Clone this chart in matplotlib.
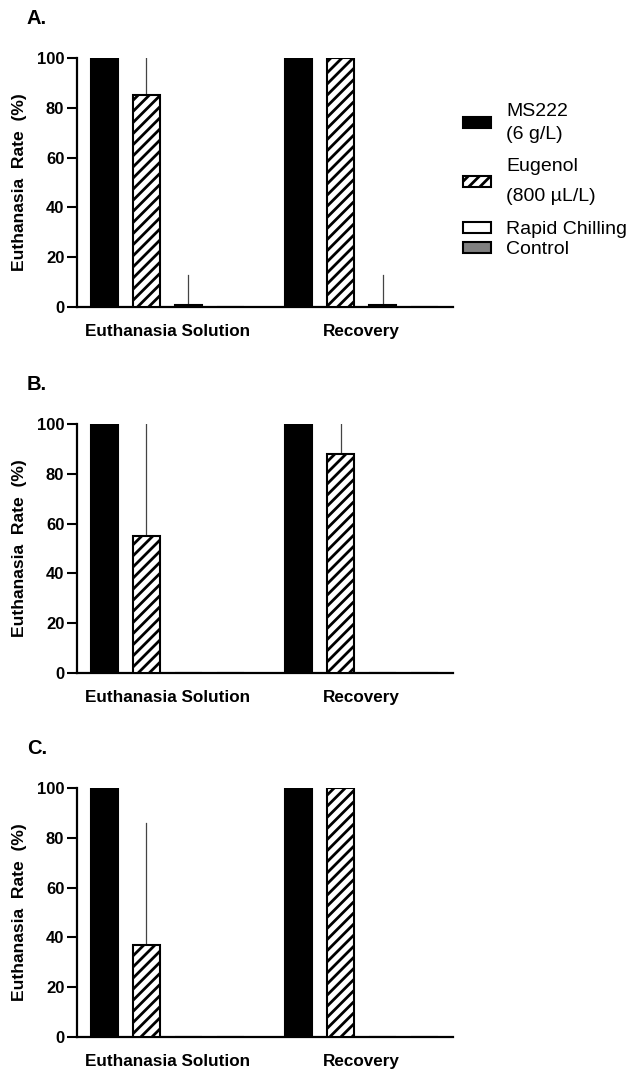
# Euthanasia rate by method, three experiments (A, B, C)

import numpy as np
import matplotlib.pyplot as plt
from matplotlib.patches import Patch

plt.rcParams["font.family"] = ["Liberation Sans", "DejaVu Sans"]
plt.rcParams["hatch.linewidth"] = 2.0

groups = ["Euthanasia Solution", "Recovery"]
methods = ["MS222\n(6 g/L)", "Eugenol\n(800 µL/L)", "Rapid Chilling", "Control"]
panels = ["A.", "B.", "C."]

# mean euthanasia rate (%) per panel, per method, per group [ES, Recovery]
ms222 = [[100, 100], [100, 100], [100, 100]]
eugenol = [[85, 100], [55, 88], [37, 100]]
chilling = [[1, 1], [0, 0], [0, 0]]
control = [[0, 0], [0, 0], [0, 0]]

# upper error bars
ms222_err = [[0, 0], [0, 0], [0, 0]]
eugenol_err = [[15, 0], [45, 12], [49, 0]]
chilling_err = [[12, 12], [0, 0], [0, 0]]
control_err = [[0, 0], [0, 0], [0, 0]]

styles = [
    dict(color="black", edgecolor="black"),
    dict(color="white", edgecolor="black", hatch="///"),
    dict(color="white", edgecolor="black"),
    dict(color="#808080", edgecolor="black"),
]

fig = plt.figure(figsize=(6.3, 10.72), dpi=100)
bottoms = [0.7136, 0.3722, 0.0326]
height = 0.2323
group_x = np.array([0, 4.63])
width = 0.65

for p in range(3):
    ax = fig.add_axes([0.122, bottoms[p], 0.597, height])
    series = [ms222[p], eugenol[p], chilling[p], control[p]]
    errs = [ms222_err[p], eugenol_err[p], chilling_err[p], control_err[p]]
    for i, (vals, err) in enumerate(zip(series, errs)):
        x = group_x + i
        ax.bar(x, vals, width, linewidth=1.5, zorder=3, **styles[i])
        for xi, v, e in zip(x, vals, err):
            if e > 0:
                ax.plot([xi, xi], [v, v + e], color="#444444", lw=0.9, zorder=2)

    ax.set_xlim(-0.65, 8.3)
    ax.set_ylim(0, 100)
    ax.set_yticks([0, 20, 40, 60, 80, 100])
    ax.set_xticks(group_x + 1.5)
    ax.set_xticklabels(groups, fontsize=12.3, fontweight="bold")
    ax.tick_params(axis="x", length=0, pad=12)
    ax.tick_params(axis="y", length=7, width=1.5, labelsize=12, pad=2)
    for lab in ax.get_yticklabels():
        lab.set_fontweight("bold")
    for s in ["top", "right"]:
        ax.spines[s].set_visible(False)
    for s in ["left", "bottom"]:
        ax.spines[s].set_linewidth(1.6)
    ax.set_ylabel("Euthanasia  Rate  (%)", fontsize=12.6, fontweight="bold", labelpad=7)
    ax.text(-0.133, 1.16, panels[p], transform=ax.transAxes, fontsize=14.5,
            fontweight="bold", ha="left", va="center")

    if p == 0:
        handles = [Patch(facecolor=st["color"], edgecolor="black", linewidth=1.5,
                         hatch=st.get("hatch")) for st in styles]
        common = dict(loc="upper left", frameon=False, fontsize=14, handlelength=1.44,
                      handleheight=0.5, handletextpad=0.77, borderpad=0, borderaxespad=0)
        leg1 = ax.legend(handles[:2], methods[:2], bbox_to_anchor=(1.027, 0.819),
                         labelspacing=0.8, **common)
        t = leg1.get_texts()
        t[0].set_linespacing(1.42)
        t[1].set_linespacing(2.0)
        ax.add_artist(leg1)
        ax.legend(handles[2:], methods[2:], bbox_to_anchor=(1.027, 0.345),
                  labelspacing=0.15, **common)

plt.savefig("out.png", dpi=100)
